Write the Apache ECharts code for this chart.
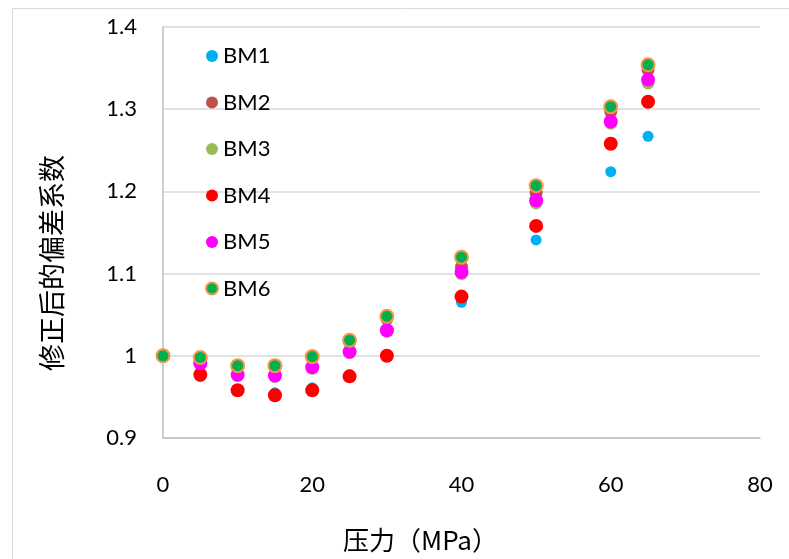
<!DOCTYPE html>
<html>
<head>
<meta charset="utf-8">
<script src="https://cdn.jsdelivr.net/npm/echarts@6/dist/echarts.min.js"></script>
<style>
  html, body { margin: 0; padding: 0; background: #fff; }
  #chart { width: 789px; height: 559px; }
</style>
</head>
<body>
<div id="chart"></div>
<script>
  // 压力 (MPa)
  const pressure = [0, 5, 10, 15, 20, 25, 30, 40, 50, 60, 65];
  const bm1 = [1.000, 0.975, 0.959, 0.955, 0.961, 0.977, 1.000, 1.065, 1.141, 1.224, 1.267];
  const bm2 = [1.000, 0.997, 0.987, 0.987, 0.998, 1.017, 1.045, 1.108, 1.198, 1.297, 1.348];
  const bm3 = [1.000, 0.990, 0.976, 0.975, 0.985, 1.004, 1.030, 1.100, 1.186, 1.283, 1.332];
  const bm4 = [1.000, 0.977, 0.958, 0.952, 0.958, 0.975, 1.000, 1.072, 1.158, 1.258, 1.309];
  const bm5 = [1.000, 0.991, 0.977, 0.976, 0.986, 1.005, 1.031, 1.102, 1.189, 1.285, 1.336];
  const bm6 = [1.000, 0.998, 0.988, 0.988, 0.999, 1.019, 1.048, 1.120, 1.207, 1.303, 1.354];

  const seriesNames = ['BM1', 'BM2', 'BM3', 'BM4', 'BM5', 'BM6'];
  const seriesData = [bm1, bm2, bm3, bm4, bm5, bm6];
  const colors = ['#00b0f0', '#c0504d', '#9bbb59', '#ff0000', '#ff00ff', '#00b050'];
  const sizes = [11, 13, 13, 14, 14, 13];

  const font = 'Lato, "Noto Sans", sans-serif';
  const cjkFont = '"Noto Sans CJK SC", sans-serif';

  const chart = echarts.init(document.getElementById('chart'));

  const series = seriesNames.map(function (name, i) {
    const item = {
      name: name,
      type: 'scatter',
      symbol: 'circle',
      symbolSize: sizes[i],
      itemStyle: { color: colors[i], opacity: 1 },
      emphasis: { disabled: true },
      data: pressure.map(function (p, j) {
        return [p, seriesData[i][j]];
      })
    };
    if (name === 'BM6') {
      item.itemStyle.borderColor = '#f79646';
      item.itemStyle.borderWidth = 2;
    }
    return item;
  });

  const options = {
    animation: false,
    graphic: [
      {
        type: 'rect',
        shape: { x: 12.5, y: 8.5, width: 800, height: 600 },
        style: { fill: 'none', stroke: '#d9d9d9', lineWidth: 1 },
        silent: true
      }
    ],
    grid: {
      left: 163,
      right: 29,
      top: 27,
      bottom: 121
    },
    legend: {
      orient: 'vertical',
      left: 200,
      top: 40,
      itemWidth: 12,
      itemHeight: 12,
      itemGap: 24.5,
      textStyle: { fontFamily: font, fontSize: 22, color: '#000' },
      data: seriesNames.map(function (n) { return { name: n, icon: 'circle' }; })
    },
    xAxis: {
      type: 'value',
      min: 0,
      max: 80,
      interval: 20,
      name: '压力（MPa）',
      nameLocation: 'middle',
      nameGap: 89,
      nameTextStyle: { fontFamily: cjkFont, fontSize: 26, color: '#000', padding: [0, 82, 0, 0] },
      axisLine: { show: true, lineStyle: { color: '#bfbfbf', width: 1.5 } },
      axisTick: { show: false },
      splitLine: { show: false },
      axisLabel: { fontFamily: font, fontSize: 22, color: '#000', margin: 36 }
    },
    yAxis: {
      type: 'value',
      min: 0.9,
      max: 1.4,
      interval: 0.1,
      name: '修正后的偏差系数',
      nameLocation: 'middle',
      nameGap: 98,
      nameTextStyle: { fontFamily: cjkFont, fontSize: 27, color: '#000', padding: [0, 61, 0, 0] },
      axisLine: { show: true, lineStyle: { color: '#bfbfbf', width: 1.5 } },
      axisTick: { show: false },
      splitLine: { show: true, lineStyle: { color: '#d9d9d9', width: 1.5 } },
      axisLabel: {
        fontFamily: font,
        fontSize: 22,
        color: '#000',
        margin: 26,
        formatter: function (v) { return String(Math.round(v * 10) / 10); }
      }
    },
    series: series
  };

  chart.setOption(options);
</script>
</body>
</html>
